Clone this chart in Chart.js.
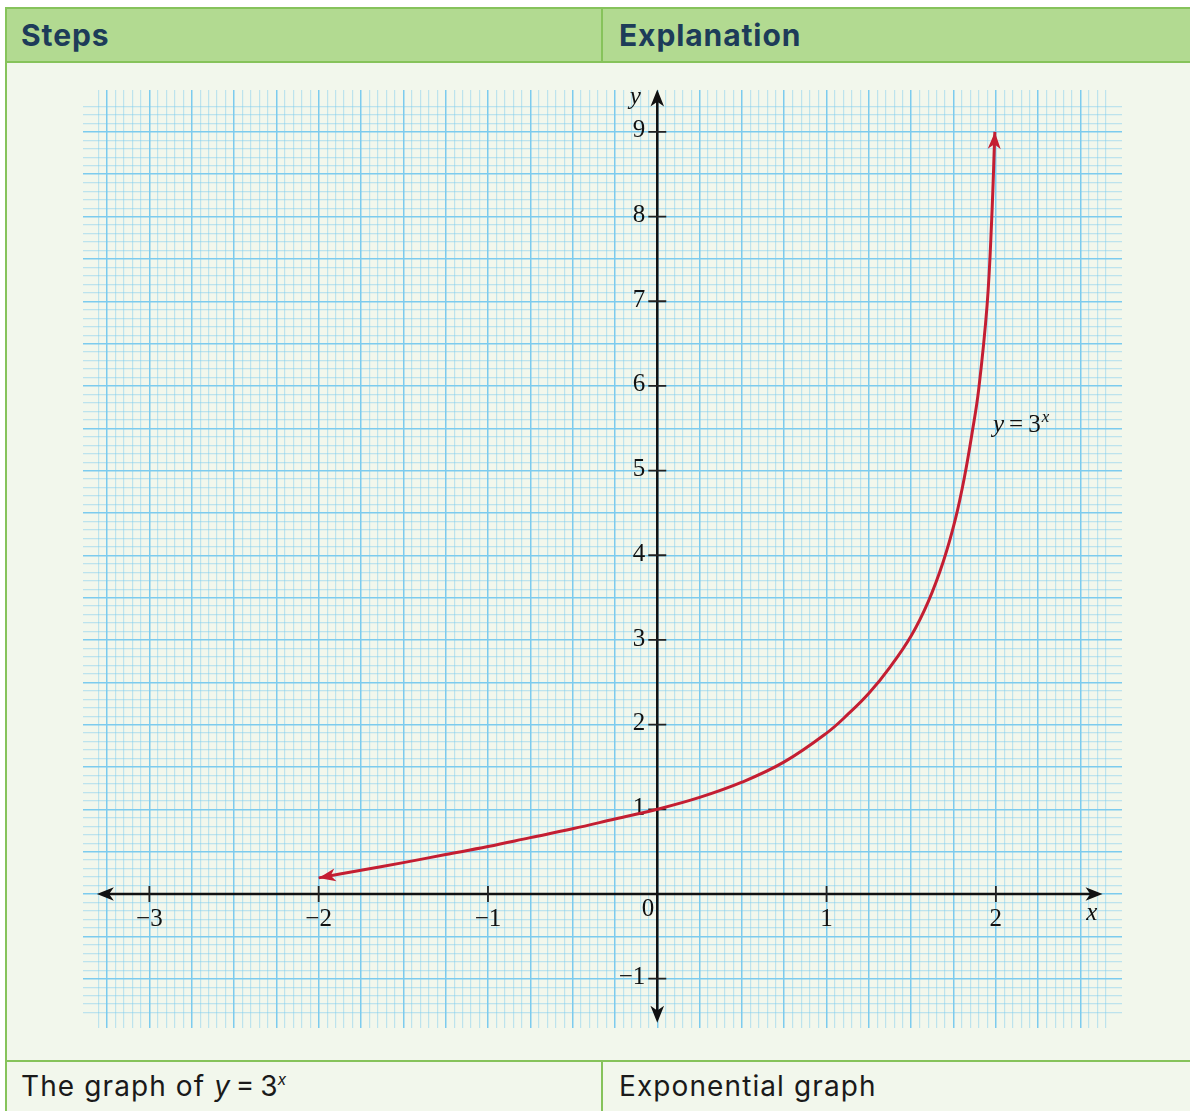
<!DOCTYPE html>
<html>
<head>
<meta charset="utf-8">
<script src="https://cdn.jsdelivr.net/npm/chart.js@4.4.0/dist/chart.umd.min.js"></script>
<style>
  body { margin: 0; width: 1190px; height: 1111px; overflow: hidden; position: relative; background: #fff; font-family: Inter, "Open Sans", sans-serif; }
  .frame { position: absolute; left: 5px; top: 7px; width: 1200px; height: 1120px; box-sizing: border-box; border: 2px solid #86c35b; background: #f2f7ec; }
  .head { position: absolute; left: 7px; top: 9px; width: 1190px; height: 52px; background: #b2da91; }
  .hl { position: absolute; left: 5px; width: 1200px; height: 2px; background: #86c35b; }
  .vl { position: absolute; width: 2px; background: #86c35b; }
  .th { position: absolute; top: 9px; height: 52px; line-height: 52px; font-size: 30px; letter-spacing: 0.9px; font-weight: 700; color: #1d3c59; }
  .td { position: absolute; top: 1062px; height: 48px; line-height: 48px; font-size: 28px; letter-spacing: 1.1px; font-weight: 400; color: #1a1a1a; }
  .td .f { letter-spacing: 0; word-spacing: -2px; }
  .td i { font-style: italic; }
  .td sup { font-size: 16px; font-style: italic; vertical-align: 11px; line-height: 0; }
  #wrap { position: absolute; left: 78px; top: 85px; width: 1049px; height: 948px; }
</style>
</head>
<body>
<div class="frame"></div>
<div class="head"></div>
<div class="hl" style="top:61px"></div>
<div class="vl" style="left:601px;top:7px;height:56px"></div>
<div class="hl" style="top:1060px"></div>
<div class="vl" style="left:601px;top:1060px;height:60px"></div>
<div class="th" style="left:21px">Steps</div>
<div class="th" style="left:619px">Explanation</div>
<div class="td" style="left:21px">The graph of <span class="f"><i>y</i> = 3<sup>x</sup></span></div>
<div class="td" style="left:619px">Exponential graph</div>
<div id="wrap"><canvas id="graph" width="1049" height="948"></canvas></div>
<script>
// points along the drawn curve y = 3^x
const curveX = [-2, -1.75, -1.5, -1.25, -1, -0.75, -0.5, -0.25, 0, 0.25, 0.5, 0.75, 1, 1.125, 1.25, 1.375, 1.5, 1.6, 1.69, 1.76, 1.815, 1.86, 1.898, 1.948, 1.975, 1.994];
const curveY = [0.19, 0.28, 0.37, 0.465, 0.56, 0.665, 0.77, 0.885, 1, 1.14, 1.32, 1.56, 1.9, 2.12, 2.37, 2.68, 3.05, 3.45, 3.93, 4.42, 4.93, 5.45, 5.95, 6.95, 7.95, 9.0];

// axis tick labels
const xTicks = [-3, -2, -1, 1, 2];
const yTicks = [-1, 1, 2, 3, 4, 5, 6, 7, 8, 9];

const RED = "#c41e32";
const SERIF = '"Liberation Serif", "Times New Roman", serif';

function onStep(v, step) {
  const r = v / step;
  return Math.abs(r - Math.round(r)) < 1e-6;
}

// graph paper: fine lines every small step, darker every fifth
function gridColor(step) {
  return (ctx) => {
    const v = ctx.tick.value;
    if (onStep(v, step * 5)) return "#7ccbee";
    if (onStep(v, step)) return "rgba(120, 202, 240, 0.44)";
    return "rgba(0,0,0,0)";
  };
}
function gridWidth(step) {
  return (ctx) => (onStep(ctx.tick.value, step * 5) ? 1.5 : 1.2);
}

function arrowHead(c, x, y, ang, len, half, color) {
  c.save();
  c.translate(x, y);
  c.rotate(ang);
  c.fillStyle = color;
  c.beginPath();
  c.moveTo(0, 0);
  c.lineTo(-len, -half);
  c.lineTo(-len * 0.72, 0);
  c.lineTo(-len, half);
  c.closePath();
  c.fill();
  c.restore();
}

function minus(n) {
  return n < 0 ? "\u2212" + Math.abs(n) : String(n);
}

const axesPlugin = {
  id: "axes",
  beforeDatasetsDraw(chart) {
    const c = chart.ctx;
    const xs = chart.scales.x, ys = chart.scales.y;
    const x0 = xs.getPixelForValue(0), y0 = ys.getPixelForValue(0);
    const xl = xs.getPixelForValue(-3.31), xr = xs.getPixelForValue(2.63);
    const yt = ys.getPixelForValue(9.5), yb = ys.getPixelForValue(-1.52);
    c.save();
    c.strokeStyle = "#111";
    c.lineWidth = 2.5;
    c.beginPath();
    c.moveTo(xl + 8, y0); c.lineTo(xr - 8, y0);
    c.moveTo(x0, yt + 8); c.lineTo(x0, yb - 8);
    c.stroke();
    arrowHead(c, xl, y0, Math.PI, 17, 6.8, "#111");
    arrowHead(c, xr, y0, 0, 17, 6.8, "#111");
    arrowHead(c, x0, yt, -Math.PI / 2, 17, 6.8, "#111");
    arrowHead(c, x0, yb, Math.PI / 2, 17, 6.8, "#111");

    c.lineWidth = 1.8;
    c.strokeStyle = "#222";
    c.beginPath();
    xTicks.forEach((t) => {
      const px = xs.getPixelForValue(t);
      c.moveTo(px, y0 - 8); c.lineTo(px, y0 + 8);
    });
    yTicks.forEach((t) => {
      const py = ys.getPixelForValue(t);
      c.moveTo(x0 - 9, py); c.lineTo(x0 + 9, py);
    });
    c.stroke();

    c.fillStyle = "#111";
    c.font = "25px " + SERIF;
    c.textAlign = "center";
    c.textBaseline = "middle";
    xTicks.forEach((t) => c.fillText(minus(t), xs.getPixelForValue(t), y0 + 25));
    c.textAlign = "right";
    yTicks.forEach((t) => c.fillText(minus(t), x0 - 12, ys.getPixelForValue(t) - 1));
    c.fillText("0", x0 - 3, y0 + 15);

    c.font = "italic 25px " + SERIF;
    c.textAlign = "center";
    c.fillText("y", x0 - 22, ys.getPixelForValue(9.41));
    c.fillText("x", xs.getPixelForValue(2.567), y0 + 19);
    c.restore();
  },
  afterDatasetsDraw(chart) {
    const c = chart.ctx;
    const pts = chart.getDatasetMeta(0).data;
    const n = pts.length;
    const a0 = Math.atan2(pts[0].y - pts[1].y, pts[0].x - pts[1].x);
    const a1 = Math.atan2(pts[n - 1].y - pts[n - 2].y, pts[n - 1].x - pts[n - 2].x);
    arrowHead(c, pts[0].x, pts[0].y, a0, 17, 6.5, RED);
    arrowHead(c, pts[n - 1].x, pts[n - 1].y, a1, 17, 6.5, RED);

    // curve label y = 3^x
    const xs = chart.scales.x, ys = chart.scales.y;
    let lx = xs.getPixelForValue(1.983);
    const ly = ys.getPixelForValue(5.456);
    c.save();
    c.fillStyle = "#111";
    c.textAlign = "left";
    c.textBaseline = "alphabetic";
    c.font = "italic 25px " + SERIF;
    c.fillText("y", lx, ly);
    lx += c.measureText("y").width + 5;
    c.font = "25px " + SERIF;
    c.fillText("=", lx, ly);
    lx += c.measureText("=").width + 5;
    c.fillText("3", lx, ly);
    lx += c.measureText("3").width + 1;
    c.font = "italic 17px " + SERIF;
    c.fillText("x", lx, ly - 10);
    c.restore();
  }
};

new Chart(document.getElementById("graph"), {
  type: "scatter",
  data: {
    datasets: [{
      data: curveX.map((x, i) => ({ x: x, y: curveY[i] })),
      showLine: true,
      borderColor: RED,
      borderWidth: 3,
      pointRadius: 0,
      tension: 0.4,
      clip: false
    }]
  },
  options: {
    responsive: false,
    devicePixelRatio: 1,
    animation: false,
    layout: { padding: 5 },
    plugins: { legend: { display: false }, tooltip: { enabled: false } },
    scales: {
      x: {
        type: "linear",
        min: -3.392,
        max: 2.745,
        ticks: { display: false, stepSize: 0.05, autoSkip: false },
        grid: { drawTicks: false, color: gridColor(0.05), lineWidth: gridWidth(0.05) },
        border: { display: false }
      },
      y: {
        type: "linear",
        min: -1.583,
        max: 9.495,
        ticks: { display: false, stepSize: 0.1, autoSkip: false },
        grid: { drawTicks: false, color: gridColor(0.1), lineWidth: gridWidth(0.1) },
        border: { display: false }
      }
    }
  },
  plugins: [axesPlugin]
});
</script>
</body>
</html>
